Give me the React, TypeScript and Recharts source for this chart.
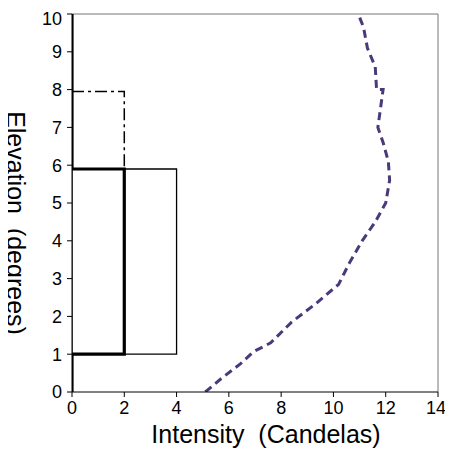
import { LineChart, Line, XAxis, YAxis, ReferenceLine, Label } from 'recharts'

const xTicks = [0, 2, 4, 6, 8, 10, 12, 14]
const yTicks = [0, 1, 2, 3, 4, 5, 6, 7, 8, 9, 10]

// thick stepped outline
const stepX = [0, 0, 2, 2, 0, 0]
const stepY = [0, 1, 1, 5.9, 5.9, 10]

// thin box
const boxX = [0, 4, 4, 0, 0]
const boxY = [1, 1, 5.9, 5.9, 1]

// dash-dot outline
const dashDotX = [0, 2, 2]
const dashDotY = [7.95, 7.95, 5.9]

// measured curve (dashed purple)
const curveX = [5.1, 5.7, 6.45, 6.95, 7.6, 8.4, 9.35, 10.2, 10.6, 11.1, 11.6, 12.0, 12.15, 12.1, 11.9, 11.7, 11.8, 11.9, 11.65, 11.6, 11.3, 11.15, 10.95]
const curveY = [0, 0.35, 0.75, 1.07, 1.3, 1.85, 2.35, 2.85, 3.4, 4.0, 4.5, 5.0, 5.6, 6.1, 6.6, 7.0, 7.5, 8.0, 8.0, 8.6, 9.1, 9.65, 10]

const toPoints = (xs: number[], ys: number[]) => xs.map((x, i) => ({ x, y: ys[i] }))

const font = '"Liberation Sans", Arial, Helvetica, sans-serif'

const XTitle = (props: any) => {
  const vb = props.viewBox
  return (
    <text x={vb.x + vb.width / 2 + 11} y={435} textAnchor="middle" fontSize={25} fontFamily={font} fill="#000" style={{ whiteSpace: 'pre' }}>
      {'Intensity  (Candelas)'}
    </text>
  )
}

const YTitle = (props: any) => {
  const vb = props.viewBox
  const cy = vb.y + vb.height / 2 + 20
  return (
    <text x={7} y={cy} transform={`rotate(90, 7, ${cy})`} textAnchor="middle" fontSize={25} fontFamily={font} fill="#000" style={{ whiteSpace: 'pre' }}>
      {'Elevation  (degrees)'}
    </text>
  )
}

export default function App() {
  return (
    <div style={{ fontFamily: font, marginLeft: -8 }}>
      <LineChart width={445} height={440} margin={{ top: 6, right: 7, bottom: 0, left: 0 }}>
        <XAxis
          type="number"
          dataKey="x"
          domain={[0, 14]}
          ticks={xTicks}
          height={56}
          tickSize={5}
          tickMargin={4}
          stroke="#000"
          tick={{ fill: '#000', fontSize: 18, fontFamily: font }}
          allowDataOverflow
        >
          <Label content={XTitle} />
        </XAxis>
        <YAxis
          type="number"
          dataKey="y"
          domain={[0, 10]}
          ticks={yTicks}
          width={72}
          tickSize={5}
          tickMargin={5}
          stroke="#000"
          tick={{ fill: '#000', fontSize: 18, fontFamily: font }}
          allowDataOverflow
        >
          <Label content={YTitle} />
        </YAxis>
        <ReferenceLine y={10} stroke="#777" strokeWidth={1} />
        <ReferenceLine x={14} stroke="#777" strokeWidth={1} />
        <Line data={toPoints(boxX, boxY)} dataKey="y" stroke="#000" strokeWidth={1.3} dot={false} isAnimationActive={false} />
        <Line data={toPoints(dashDotX, dashDotY)} dataKey="y" stroke="#000" strokeWidth={1.5} strokeDasharray="12 4 3 4" dot={false} isAnimationActive={false} />
        <Line data={toPoints(stepX, stepY)} dataKey="y" stroke="#000" strokeWidth={3.2} dot={false} isAnimationActive={false} />
        <Line data={toPoints(curveX, curveY)} dataKey="y" stroke="#4a3a7a" strokeWidth={3} strokeDasharray="8 5" dot={false} isAnimationActive={false} />
      </LineChart>
    </div>
  )
}
